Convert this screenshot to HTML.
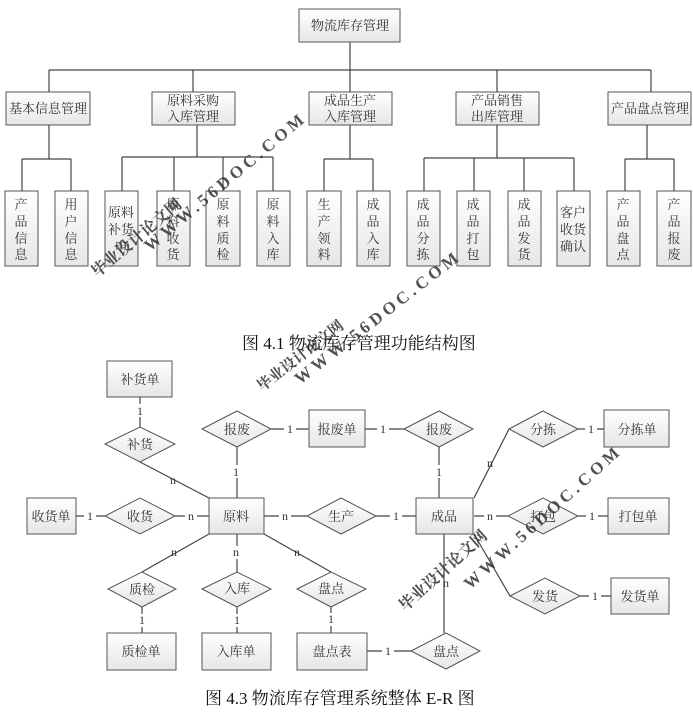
<!DOCTYPE html>
<html><head><meta charset="utf-8">
<style>
html,body{margin:0;padding:0;background:#fff;}
svg{display:block;}
text{font-family:"Liberation Serif","Noto Serif CJK SC",serif;fill:#333;}
.t{font-size:13px;text-anchor:middle;}
.l{font-size:12px;text-anchor:middle;font-family:"Liberation Sans",sans-serif;fill:#222;}
.cap{font-size:17px;fill:#111;}
.wm{font-family:"Liberation Sans","Noto Sans CJK SC",sans-serif;font-weight:bold;fill:#d02828;opacity:0.85;}
</style></head>
<body>
<svg width="693" height="715" viewBox="0 0 693 715" xmlns="http://www.w3.org/2000/svg">
<defs>
<linearGradient id="g" x1="0" y1="0" x2="0" y2="1">
<stop offset="0" stop-color="#ffffff"/><stop offset="1" stop-color="#e6e6e6"/>
</linearGradient>
</defs>
<g stroke="#444" stroke-width="1.2" fill="none">
<path d="M350 42V70M49 70H651M49 70V92M193 70V92M350 70V92M497 70V92M651 70V92"/>
<path d="M49 125V159M22 159H71M22 159V191M71 159V191"/>
<path d="M197 125V157M122 157H273M122 157V191M174 157V191M223 157V191M273 157V191"/>
<path d="M350 125V159M324 159H373M324 159V191M373 159V191"/>
<path d="M497 125V158M424 158H574M424 158V191M474 158V191M524 158V191M574 158V191"/>
<path d="M647 125V159M625 159H674M625 159V191M674 159V191"/>
<path d="M140 397V427M140 462L209 498M237 447V498M271 429H309M365 429H404M439 447V498M509 429L474 498M578 429H604"/>
<path d="M76 516H105M175 516H209M264 516H307M376 516H418M474 516H508M578 516H608M474 534L510 596M580 596H611"/>
<path d="M209 534L142 572M237 534V572M264 534L331 572M142 607V633M237 607V633M331 607V633M367 651H411M444 534V633"/>
</g>
<g fill="url(#g)" stroke="#555" stroke-width="1">
<rect x="299" y="9" width="101" height="33"/>
<rect x="6" y="92" width="84" height="33"/>
<rect x="152" y="92" width="83" height="33"/>
<rect x="309" y="92" width="83" height="33"/>
<rect x="456" y="92" width="83" height="33"/>
<rect x="608" y="92" width="83" height="33"/>
<rect x="5" y="191" width="33" height="75"/><rect x="55" y="191" width="33" height="75"/>
<rect x="105" y="191" width="33" height="75"/><rect x="157" y="191" width="33" height="75"/>
<rect x="206" y="191" width="34" height="75"/><rect x="257" y="191" width="33" height="75"/>
<rect x="307" y="191" width="34" height="75"/><rect x="357" y="191" width="33" height="75"/>
<rect x="407" y="191" width="33" height="75"/><rect x="457" y="191" width="33" height="75"/>
<rect x="508" y="191" width="33" height="75"/><rect x="557" y="191" width="33" height="75"/>
<rect x="607" y="191" width="33" height="75"/><rect x="657" y="191" width="34" height="75"/>
<rect x="107" y="361" width="65" height="36"/>
<rect x="309" y="410" width="56" height="37"/>
<rect x="604" y="410" width="65" height="37"/>
<rect x="27" y="498" width="49" height="36"/>
<rect x="209" y="498" width="55" height="36"/>
<rect x="416" y="498" width="57" height="36"/>
<rect x="608" y="498" width="61" height="36"/>
<rect x="611" y="578" width="58" height="36"/>
<rect x="107" y="633" width="69" height="37"/>
<rect x="202" y="633" width="69" height="37"/>
<rect x="297" y="633" width="70" height="37"/>
<polygon points="105,444 140,427 175,444 140,462"/>
<polygon points="202,429 237,411 271,429 237,447"/>
<polygon points="404,429 439,411 473,429 439,447"/>
<polygon points="509,429 543,411 578,429 543,447"/>
<polygon points="105,516 140,498 175,516 140,534"/>
<polygon points="307,516 341,498 376,516 341,534"/>
<polygon points="508,516 543,498 578,516 543,534"/>
<polygon points="108,589 142,572 176,589 142,607"/>
<polygon points="202,589 237,572 271,589 237,607"/>
<polygon points="297,589 331,572 366,589 331,607"/>
<polygon points="510,596 545,578 580,596 545,614"/>
<polygon points="411,651 446,633 480,651 446,669"/>
</g>
<g class="t">
<text x="350" y="30">物流库存管理</text>
<text x="48" y="113">基本信息管理</text>
<text x="193" y="105">原料采购</text><text x="193" y="121">入库管理</text>
<text x="350" y="105">成品生产</text><text x="350" y="121">入库管理</text>
<text x="497" y="105">产品销售</text><text x="497" y="121">出库管理</text>
<text x="650" y="113">产品盘点管理</text>
</g>
<g class="t">
<text x="21" y="209">产</text><text x="21" y="226">品</text><text x="21" y="243">信</text><text x="21" y="259">息</text>
<text x="71" y="209">用</text><text x="71" y="226">户</text><text x="71" y="243">信</text><text x="71" y="259">息</text>
<text x="121" y="217">原料</text><text x="121" y="234">补货</text><text x="121" y="251">申</text>
<text x="173" y="209">原</text><text x="173" y="226">料</text><text x="173" y="243">收</text><text x="173" y="259">货</text>
<text x="223" y="209">原</text><text x="223" y="226">料</text><text x="223" y="243">质</text><text x="223" y="259">检</text>
<text x="273" y="209">原</text><text x="273" y="226">料</text><text x="273" y="243">入</text><text x="273" y="259">库</text>
<text x="324" y="209">生</text><text x="324" y="226">产</text><text x="324" y="243">领</text><text x="324" y="259">料</text>
<text x="373" y="209">成</text><text x="373" y="226">品</text><text x="373" y="243">入</text><text x="373" y="259">库</text>
<text x="423" y="209">成</text><text x="423" y="226">品</text><text x="423" y="243">分</text><text x="423" y="259">拣</text>
<text x="473" y="209">成</text><text x="473" y="226">品</text><text x="473" y="243">打</text><text x="473" y="259">包</text>
<text x="524" y="209">成</text><text x="524" y="226">品</text><text x="524" y="243">发</text><text x="524" y="259">货</text>
<text x="573" y="217">客户</text><text x="573" y="234">收货</text><text x="573" y="251">确认</text>
<text x="623" y="209">产</text><text x="623" y="226">品</text><text x="623" y="243">盘</text><text x="623" y="259">点</text>
<text x="674" y="209">产</text><text x="674" y="226">品</text><text x="674" y="243">报</text><text x="674" y="259">废</text>
</g>
<text class="cap" x="242" y="349">图 4.1  物流库存管理功能结构图</text>
<g class="t">
<text x="140" y="384">补货单</text>
<text x="140" y="449">补货</text>
<text x="237" y="434">报废</text>
<text x="337" y="434">报废单</text>
<text x="439" y="434">报废</text>
<text x="543" y="434">分拣</text>
<text x="637" y="434">分拣单</text>
<text x="51" y="521">收货单</text>
<text x="140" y="521">收货</text>
<text x="236" y="521">原料</text>
<text x="341" y="521">生产</text>
<text x="444" y="521">成品</text>
<text x="543" y="521">打包</text>
<text x="638" y="521">打包单</text>
<text x="142" y="594">质检</text>
<text x="237" y="593">入库</text>
<text x="331" y="593">盘点</text>
<text x="545" y="601">发货</text>
<text x="640" y="601">发货单</text>
<text x="141" y="656">质检单</text>
<text x="236" y="656">入库单</text>
<text x="332" y="656">盘点表</text>
<text x="446" y="656">盘点</text>
</g>
<g class="l">
<rect x="134" y="404" width="12" height="13" fill="#fff"/><text x="140" y="415">1</text>
<text x="173" y="484">n</text>
<rect x="231" y="465" width="12" height="13" fill="#fff"/><text x="236" y="476">1</text>
<rect x="284" y="423" width="12" height="13" fill="#fff"/><text x="290" y="433">1</text>
<rect x="377" y="423" width="12" height="13" fill="#fff"/><text x="383" y="433">1</text>
<rect x="433" y="465" width="12" height="13" fill="#fff"/><text x="439" y="476">1</text>
<text x="490" y="467">n</text>
<rect x="585" y="423" width="12" height="13" fill="#fff"/><text x="591" y="433">1</text>
<rect x="84" y="510" width="12" height="13" fill="#fff"/><text x="90" y="520">1</text>
<rect x="185" y="510" width="12" height="13" fill="#fff"/><text x="191" y="520">n</text>
<rect x="279" y="510" width="12" height="13" fill="#fff"/><text x="285" y="520">n</text>
<rect x="390" y="510" width="12" height="13" fill="#fff"/><text x="396" y="520">1</text>
<rect x="484" y="510" width="12" height="13" fill="#fff"/><text x="490" y="520">n</text>
<rect x="586" y="510" width="12" height="13" fill="#fff"/><text x="592" y="520">1</text>
<rect x="589" y="590" width="12" height="13" fill="#fff"/><text x="595" y="600">1</text>
<text x="174" y="556">n</text>
<rect x="230" y="546" width="12" height="13" fill="#fff"/><text x="236" y="556">n</text>
<text x="297" y="556">n</text>
<rect x="136" y="614" width="12" height="13" fill="#fff"/><text x="142" y="624">1</text>
<rect x="231" y="614" width="12" height="13" fill="#fff"/><text x="237" y="624">1</text>
<rect x="325" y="613" width="12" height="13" fill="#fff"/><text x="331" y="623">1</text>
<rect x="382" y="645" width="12" height="13" fill="#fff"/><text x="388" y="655">1</text>
<text x="446" y="587">n</text>
</g>
<text class="cap" x="205" y="704">图 4.3  物流库存管理系统整体 E-R 图</text>
<g class="wm">
<text x="150" y="252" font-size="17" transform="rotate(-40 150 252)" letter-spacing="4">WWW.56DOC.COM</text>
<text x="97" y="278" font-size="16" transform="rotate(-40 97 278)">毕业设计论文网</text>
<text x="300" y="385" font-size="17" transform="rotate(-38 300 385)" letter-spacing="4">WWW.56DOC.COM</text>
<text x="262" y="392" font-size="15" transform="rotate(-38 262 392)">毕业设计论文网</text>
<text x="470" y="590" font-size="17" transform="rotate(-42 470 590)" letter-spacing="4">WWW.56DOC.COM</text>
<text x="405" y="612" font-size="16" transform="rotate(-42 405 612)">毕业设计论文网</text>
</g>
</svg>
</body></html>
